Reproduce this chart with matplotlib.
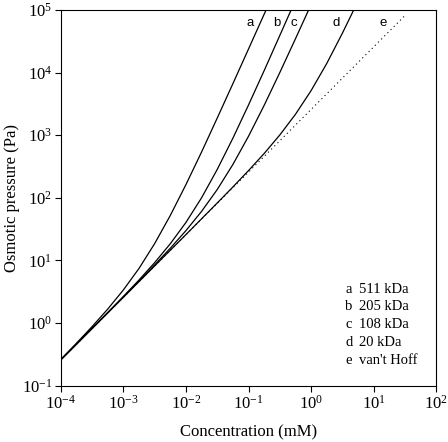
import matplotlib
matplotlib.use("Agg")
import matplotlib.pyplot as plt
from matplotlib.ticker import LogLocator, NullLocator

plt.rcParams["font.family"] = "serif"
plt.rcParams["font.serif"] = ["Liberation Serif", "DejaVu Serif"]
plt.rcParams["mathtext.fontset"] = "custom"
plt.rcParams["mathtext.rm"] = "Liberation Serif"

# concentration (mM) / osmotic pressure (Pa)
conc_a = [1e-4, 1.78e-4, 3.16e-4, 5.62e-4, 1e-3, 1.78e-3, 3.16e-3, 5.62e-3, 1e-2,
          1.78e-2, 3.16e-2, 5.62e-2, 0.1, 0.178, 0.191]
press_a = [0.262, 0.475, 0.875, 1.667, 3.37, 7.45, 18.5, 52.1, 162.3,
           540, 1873, 6633, 23810, 85800, 1e5]

conc_b = [1e-4, 1.78e-4, 3.16e-4, 5.62e-4, 1e-3, 1.78e-3, 3.16e-3, 5.62e-3, 1e-2,
          1.78e-2, 3.16e-2, 5.62e-2, 0.1, 0.178, 0.316, 0.479]
press_b = [0.258, 0.460, 0.821, 1.470, 2.654, 4.87, 9.21, 18.44, 40.4,
           100.2, 283.4, 893, 3038, 10770, 39120, 1e5]

conc_c = [1e-4, 1.78e-4, 3.16e-4, 5.62e-4, 1e-3, 1.78e-3, 3.16e-3, 5.62e-3, 1e-2,
          1.78e-2, 3.16e-2, 5.62e-2, 0.1, 0.178, 0.316, 0.562, 0.912]
press_c = [0.258, 0.459, 0.817, 1.456, 2.601, 4.67, 8.47, 15.64, 29.9,
           60.8, 135.4, 340, 962, 3005, 10000, 34650, 1e5]

conc_d = [1e-4, 1e-3, 1e-2, 3.16e-2, 5.62e-2, 0.1, 0.178, 0.316, 0.562, 1, 1.78, 3.16, 4.79]
press_d = [0.258, 2.577, 25.85, 82.6, 148.9, 272.2, 511, 1008, 2155, 5160, 14020, 42600, 1e5]

# van't Hoff line
conc_e = [1e-4, 1e-3, 1e-2, 0.1, 1, 10, 31]
press_e = [0.258, 2.58, 25.8, 258, 2580, 25800, 80000]

curve_letters = ["a", "b", "c", "d", "e"]
legend_labels = ["511 kDa", "205 kDa", "108 kDa", "20 kDa", "van't Hoff"]
letter_x = [0.106, 0.288, 0.525, 2.5, 14.3]
letter_y = 6.1e4

fig = plt.figure(figsize=(4.48, 4.42), dpi=100)
ax = fig.add_axes([0.1355, 0.1274, 0.8384, 0.85])

for conc, press in ((conc_a, press_a), (conc_b, press_b), (conc_c, press_c), (conc_d, press_d)):
    ax.plot(conc, press, color="black", lw=0.9)
ax.plot(conc_e, press_e, color="black", lw=0.8, linestyle=(0, (1, 3)))

ax.set_xscale("log")
ax.set_yscale("log")
ax.set_xlim(1e-4, 1e2)
ax.set_ylim(1e-1, 1e5)
ax.xaxis.set_major_locator(LogLocator(base=10, numticks=10))
ax.yaxis.set_major_locator(LogLocator(base=10, numticks=10))
ax.xaxis.set_minor_locator(NullLocator())
ax.yaxis.set_minor_locator(NullLocator())
ax.tick_params(direction="out", length=4.2, width=0.8, labelsize=12, pad=2)

for s in ax.spines.values():
    s.set_linewidth(0.8)

ax.set_xlabel("Concentration (mM)", fontsize=12, labelpad=9)
ax.set_ylabel("Osmotic pressure (Pa)", fontsize=12, labelpad=1)

for lx, letter in zip(letter_x, curve_letters):
    ax.text(lx, letter_y, letter, family="Liberation Sans", fontsize=9.5,
            ha="center", va="center")

for i, (letter, lab) in enumerate(zip(curve_letters, legend_labels)):
    y = 0.2566 - i * 0.0471
    ax.text(0.757, y, letter, transform=ax.transAxes, fontsize=10.5, va="center")
    ax.text(0.794, y, lab, transform=ax.transAxes, fontsize=10.5, va="center")

fig.savefig("out.png", dpi=100)
